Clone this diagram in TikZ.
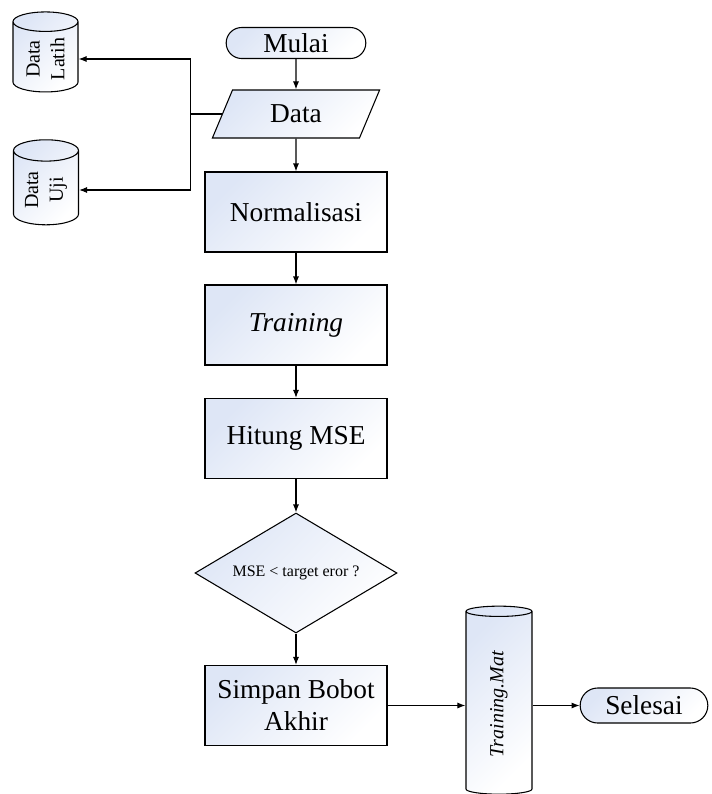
\documentclass[tikz,border=0pt]{standalone}
\usepackage{fontspec}
\setmainfont{Liberation Serif}
\usetikzlibrary{shapes.geometric,shapes.misc,arrows.meta}

\definecolor{boxfill}{RGB}{222,230,246}

\tikzset{
  base/.style={draw, line width=0.8pt, top color=boxfill, bottom color=white, shading angle=45, inner sep=2pt},
  terminal/.style={base, rounded rectangle, minimum height=23.25pt, font=\fontsize{20.5}{24}\selectfont},
  io/.style={base, trapezium, trapezium left angle=69, trapezium right angle=111, trapezium stretches=true, minimum width=126pt, minimum height=36pt, font=\fontsize{20.5}{24}\selectfont},
  process/.style={base, rectangle, align=center, minimum width=136.5pt, minimum height=60pt, font=\fontsize{20.5}{24}\selectfont},
  decision/.style={base, diamond, aspect=1.68, minimum width=151.5pt, minimum height=90pt, font=\fontsize{12}{14}\selectfont},
  store/.style={base, cylinder, rotate=90, aspect=0.45, align=center, minimum width=48.75pt, font=\fontsize{15}{18.5}\selectfont},
  link/.style={line width=0.8pt}
}

\begin{document}
\begin{tikzpicture}[x=0.75pt,y=0.75pt,yscale=-1,xscale=1,>={Latex[length=6pt,width=4.5pt]}]
\useasboundingbox (0,0) rectangle (712,794);

% alur utama
\node[terminal, minimum width=108.75pt] (mulai) at (296,43) {Mulai};
\node[io] (data) at (296,114) {Data};
\node[process] (norm) at (296,212) {Normalisasi};
\node[process] (train) at (296,325) {\textit{Training}};
\node[process] (mse) at (296,438.5) {Hitung MSE};
\node[decision] (cek) at (296,573) {MSE < target eror ?};
\node[process] (simpan) at (296,705.5) {Simpan Bobot\\Akhir};

% penyimpanan data
\node[store, minimum height=60pt] (latih) at (45.5,59) {Data\\Latih};
\node[store, minimum height=63.75pt] (uji) at (46,190) {Data\\Uji};
\node[store, minimum height=141pt, minimum width=49.5pt] (tmat) at (499,704) {\textit{Training.Mat}};
\node[terminal, minimum width=99.75pt, minimum height=26.25pt] (selesai) at (644,705.5) {Selesai};

% panah
\draw[link,->] (mulai) -- (data);
\draw[link,->] (data) -- (norm);
\draw[link,->] (norm) -- (train);
\draw[link,->] (train) -- (mse);
\draw[link,->] (mse) -- (cek);
\draw[link,->] (cek) -- (simpan);
\draw[link] (data.west) -- ++(-31,0) coordinate (cabang);
\draw[link,->] (cabang) |- (latih);
\draw[link,->] (cabang) |- (uji);
\draw[link,->] (simpan.east) -- (simpan.east -| tmat.north);
\draw[link,->] (tmat.south |- selesai) -- (selesai);

\end{tikzpicture}
\end{document}
